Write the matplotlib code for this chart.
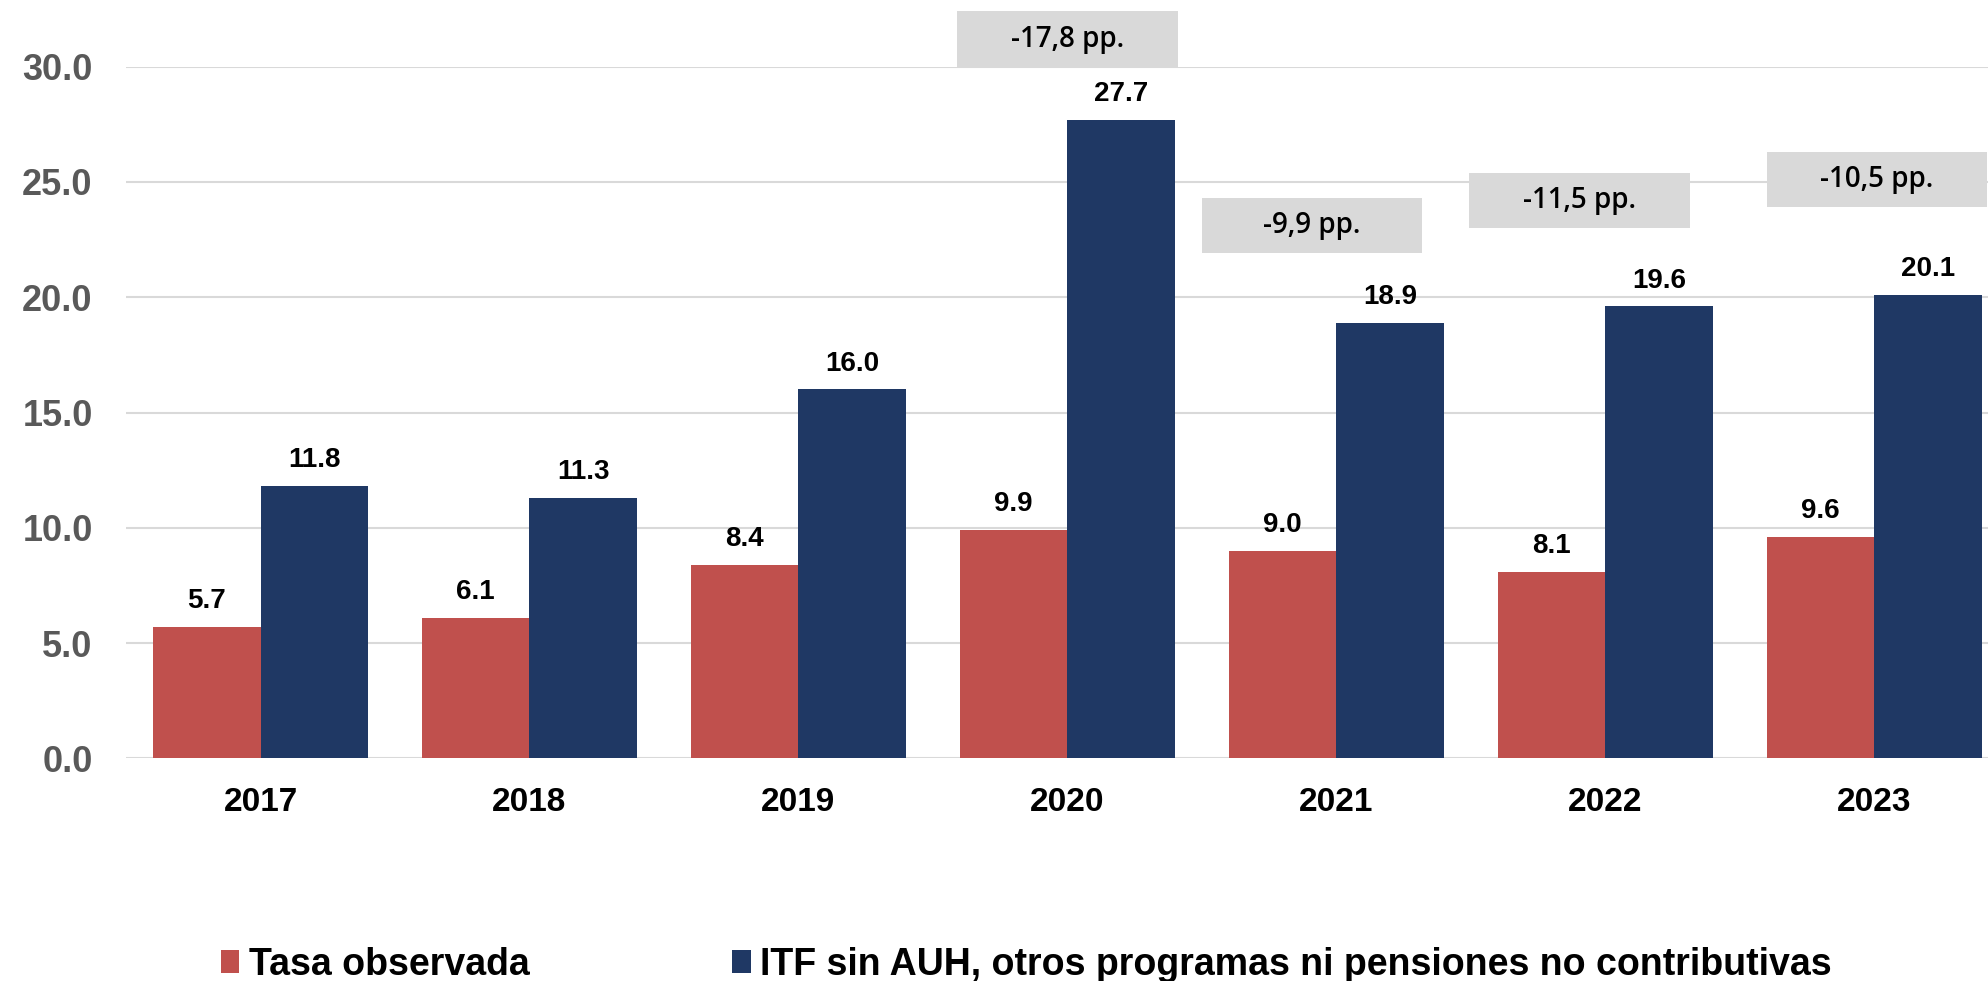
import numpy as np
import matplotlib.pyplot as plt
from matplotlib.patches import Rectangle

years = ["2017", "2018", "2019", "2020", "2021", "2022", "2023"]
tasa_observada = [5.7, 6.1, 8.4, 9.9, 9.0, 8.1, 9.6]
itf_sin_auh = [11.8, 11.3, 16.0, 27.7, 18.9, 19.6, 20.1]

# cajas con la diferencia en puntos porcentuales
dif_labels = ["-17,8 pp.", "-9,9 pp.", "-11,5 pp.", "-10,5 pp."]
dif_x = [3.0, 3.91, 4.905, 6.01]
dif_y = [30.0, 21.9, 23.0, 23.9]

rojo = "#C0504D"
azul = "#1F3864"

plt.rcParams["font.family"] = ["Liberation Sans", "DejaVu Sans"]

fig = plt.figure(figsize=(19.88, 9.81), dpi=100)
ax = fig.add_axes([0.0634, 0.227, 0.947, 0.705])

x = np.arange(len(years))
w = 0.4
b1 = ax.bar(x - w / 2, tasa_observada, w, color=rojo, label="Tasa observada", zorder=3)
b2 = ax.bar(x + w / 2, itf_sin_auh, w, color=azul,
            label="ITF sin AUH, otros programas ni pensiones no contributivas", zorder=3)

for bars, vals in [(b1, tasa_observada), (b2, itf_sin_auh)]:
    for r, v in zip(bars, vals):
        ax.text(r.get_x() + r.get_width() / 2, v + 0.82, f"{v:.1f}", ha="center", va="baseline",
                fontsize=20, fontweight="bold", color="black")

for lab, cx, cy in zip(dif_labels, dif_x, dif_y):
    ax.add_patch(Rectangle((cx - 0.41, cy), 0.82, 2.4, facecolor="#D9D9D9", edgecolor="none",
                           clip_on=False, zorder=4))
    ax.text(cx, cy + 1.2, lab, ha="center", va="center", fontsize=20, fontweight="semibold",
            family=["Open Sans", "DejaVu Sans"], color="black", zorder=5)

ax.set_xlim(-0.5, 6.5)
ax.set_ylim(0, 30)
ax.set_yticks(np.arange(0, 31, 5))
ax.set_yticklabels([f"{t:.1f}" for t in np.arange(0, 31, 5)], fontsize=26, fontweight="bold",
                   color="#595959")
ax.set_xticks(x)
ax.set_xticklabels(years, fontsize=24, fontweight="bold", color="black")
ax.tick_params(axis="both", length=0)
ax.tick_params(axis="y", pad=24)
ax.tick_params(axis="x", pad=21)
ax.yaxis.grid(True, color="#D9D9D9", linewidth=1.5, zorder=0)
for s in ax.spines.values():
    s.set_visible(False)

fig.legend(handles=[b1, b2], loc="lower left", bbox_to_anchor=(0.094, -0.036), ncol=2,
           frameon=False, prop={"weight": "bold", "size": 27},
           handlelength=0.5, handleheight=0.55, handletextpad=0.25, columnspacing=5.4)

fig.savefig("out.png", dpi=100)
